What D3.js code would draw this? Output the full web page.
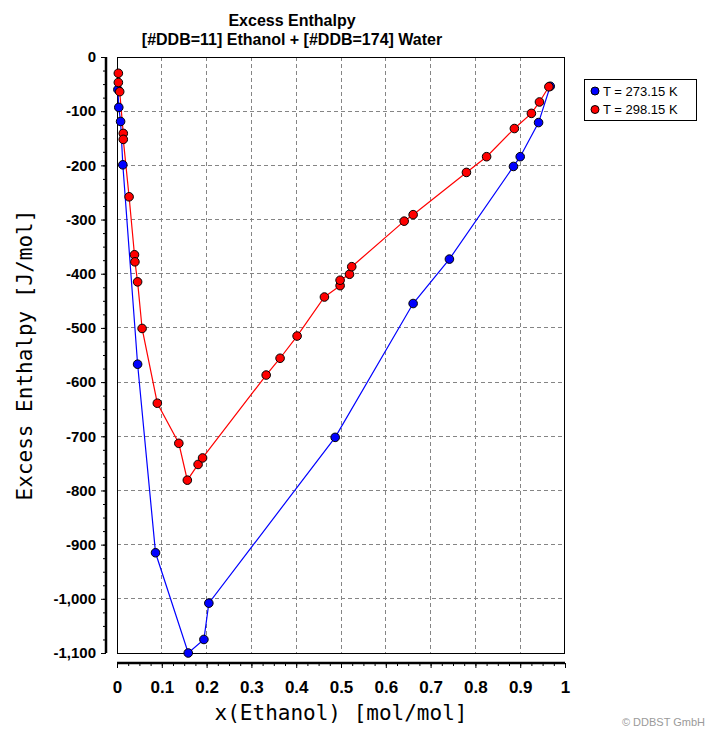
<!DOCTYPE html>
<html>
<head>
<meta charset="utf-8">
<script src="https://cdn.jsdelivr.net/npm/d3@7"></script>
<style>
  html, body { margin: 0; padding: 0; background: #ffffff; }
  svg { display: block; }
</style>
</head>
<body>
<svg id="chart" width="708" height="731"></svg>
<script>
// ---- data ----
const titleLines = ["Excess Enthalpy", "[#DDB=11] Ethanol + [#DDB=174] Water"];
const xLabel = "x(Ethanol) [mol/mol]";
const yLabel = "Excess Enthalpy [J/mol]";
const seriesNames = ["T = 273.15 K", "T = 298.15 K"];
const seriesColors = ["#0000ff", "#ff0000"];

const xTicks = [0, 0.1, 0.2, 0.3, 0.4, 0.5, 0.6, 0.7, 0.8, 0.9, 1];
const yTicks = [0, -100, -200, -300, -400, -500, -600, -700, -800, -900, -1000, -1100];

// T = 273.15 K
const x273 = [0.002, 0.004, 0.008, 0.013, 0.046, 0.086, 0.159, 0.194, 0.205, 0.487, 0.661, 0.742, 0.885, 0.900, 0.941, 0.967];
const h273 = [-60, -93, -119, -199, -567, -915, -1100, -1075, -1008, -702, -455, -373, -202, -184, -121, -54];

// T = 298.15 K
const x298 = [0.003, 0.003, 0.006, 0.014, 0.014, 0.027, 0.039, 0.040, 0.046, 0.056, 0.090, 0.138, 0.157, 0.181, 0.191,
              0.333, 0.364, 0.402, 0.463, 0.498, 0.498, 0.519, 0.524, 0.641, 0.661, 0.780, 0.825, 0.887, 0.925, 0.943, 0.964];
const h298 = [-30, -47, -64, -141, -152, -258, -365, -378, -415, -501, -639, -713, -781, -752, -740,
              -587, -556, -515, -443, -422, -412, -401, -387, -303, -291, -213, -184, -132, -104, -83, -55];

// ---- drawing ----
const svg = d3.select("#chart");
const x = d3.scaleLinear().domain([0, 1]).range([117, 565]);
const y = d3.scaleLinear().domain([0, -1100]).range([57, 653]);
const fmt = d3.formatLocale({decimal: ".", thousands: ",", grouping: [3], currency: ["", ""], minus: "-"}).format(",");

// grid
const gridColor = "#858585";
svg.append("g").selectAll("line").data(xTicks.slice(1, -1)).join("line")
  .attr("x1", d => x(d)).attr("x2", d => x(d))
  .attr("y1", y(0)).attr("y2", y(-1100))
  .attr("stroke", gridColor).attr("stroke-width", 1).attr("stroke-dasharray", "4,3")
  .attr("shape-rendering", "crispEdges");
svg.append("g").selectAll("line").data(yTicks.slice(1, -1)).join("line")
  .attr("x1", x(0)).attr("x2", x(1))
  .attr("y1", d => y(d)).attr("y2", d => y(d))
  .attr("stroke", gridColor).attr("stroke-width", 1).attr("stroke-dasharray", "4,3")
  .attr("shape-rendering", "crispEdges");

// plot frame
svg.append("rect")
  .attr("x", x(0) + 0.5).attr("y", y(0) + 0.5)
  .attr("width", x(1) - x(0) - 1).attr("height", y(-1100) - y(0))
  .attr("fill", "none").attr("stroke", "#000").attr("stroke-width", 1);

// left axis (detached)
const yMinor = d3.range(0, -1101, -25);
const yAxisMinor = d3.axisLeft(y).tickValues(yMinor).tickSize(3).tickFormat("");
const gyMinor = svg.append("g").attr("transform", "translate(106,0)").call(yAxisMinor);
gyMinor.select(".domain").remove();
const yAxis = d3.axisLeft(y).tickValues(yTicks).tickSize(5).tickPadding(5).tickFormat(fmt);
const gy = svg.append("g").attr("transform", "translate(106,0)").call(yAxis);
gy.select(".domain").attr("stroke-width", 2.5).attr("d", `M0,${y(0)}V${y(-1100)}`);
gy.selectAll("text").attr("font-family", "'Liberation Sans', Arial, sans-serif")
  .attr("font-weight", "bold").attr("font-size", 15).attr("fill", "#000");

// bottom axis (detached)
const xMinor = d3.range(0, 1.0001, 0.025);
const xAxisMinor = d3.axisBottom(x).tickValues(xMinor).tickSize(3).tickFormat("");
const gxMinor = svg.append("g").attr("transform", "translate(0,663)").call(xAxisMinor);
gxMinor.select(".domain").remove();
const xAxis = d3.axisBottom(x).tickValues(xTicks).tickSize(5).tickPadding(13).tickFormat(d3.format("~g"));
const gx = svg.append("g").attr("transform", "translate(0,663)").call(xAxis);
gx.select(".domain").attr("stroke-width", 2.5).attr("d", `M${x(0)},0H${x(1)}`);
gx.selectAll("text").attr("font-family", "'Liberation Sans', Arial, sans-serif")
  .attr("font-weight", "bold").attr("font-size", 17).attr("fill", "#000");

// series
const s273 = x273.map((v, i) => ({x: v, h: h273[i]}));
const s298 = x298.map((v, i) => ({x: v, h: h298[i]}));
const series = [s273, s298];
const line = d3.line().x(d => x(d.x)).y(d => y(d.h));
series.forEach((s, i) => {
  svg.append("path").datum(s).attr("d", line)
    .attr("fill", "none").attr("stroke", seriesColors[i]).attr("stroke-width", 1.2);
});
series.forEach((s, i) => {
  svg.append("g").selectAll("circle").data(s).join("circle")
    .attr("cx", d => x(d.x)).attr("cy", d => y(d.h)).attr("r", 4.3)
    .attr("fill", seriesColors[i]).attr("stroke", "#000").attr("stroke-width", 1);
});

// titles
svg.append("text").attr("x", 292).attr("y", 26).attr("text-anchor", "middle")
  .attr("font-family", "'Liberation Sans', Arial, sans-serif").attr("font-weight", "bold")
  .attr("font-size", 16).text(titleLines[0]);
svg.append("text").attr("x", 292).attr("y", 45).attr("text-anchor", "middle")
  .attr("font-family", "'Liberation Sans', Arial, sans-serif").attr("font-weight", "bold")
  .attr("font-size", 16).text(titleLines[1]);

svg.append("text").attr("x", 341).attr("y", 720).attr("text-anchor", "middle")
  .attr("font-family", "'DejaVu Sans Mono', monospace").attr("font-size", 21).text(xLabel);
svg.append("text").attr("transform", `translate(32,355) rotate(-90)`).attr("text-anchor", "middle")
  .attr("font-family", "'DejaVu Sans Mono', monospace").attr("font-size", 21).text(yLabel);

// legend
const lg = svg.append("g");
lg.append("rect").attr("x", 584.5).attr("y", 79.5).attr("width", 112).attr("height", 41)
  .attr("fill", "#fff").attr("stroke", "#000").attr("stroke-width", 1);
seriesNames.forEach((n, i) => {
  const cy = 91 + i * 18.5;
  lg.append("circle").attr("cx", 595).attr("cy", cy).attr("r", 4)
    .attr("fill", seriesColors[i]).attr("stroke", "#000").attr("stroke-width", 1);
  lg.append("text").attr("x", 603).attr("y", cy + 4.5)
    .attr("font-family", "'Liberation Sans', Arial, sans-serif").attr("font-size", 13).text(n);
});

// copyright
svg.append("text").attr("x", 705).attr("y", 726).attr("text-anchor", "end")
  .attr("font-family", "'Liberation Sans', Arial, sans-serif").attr("font-size", 11)
  .attr("fill", "#9a9a9a").text("\u00a9 DDBST GmbH");
</script>
</body>
</html>
